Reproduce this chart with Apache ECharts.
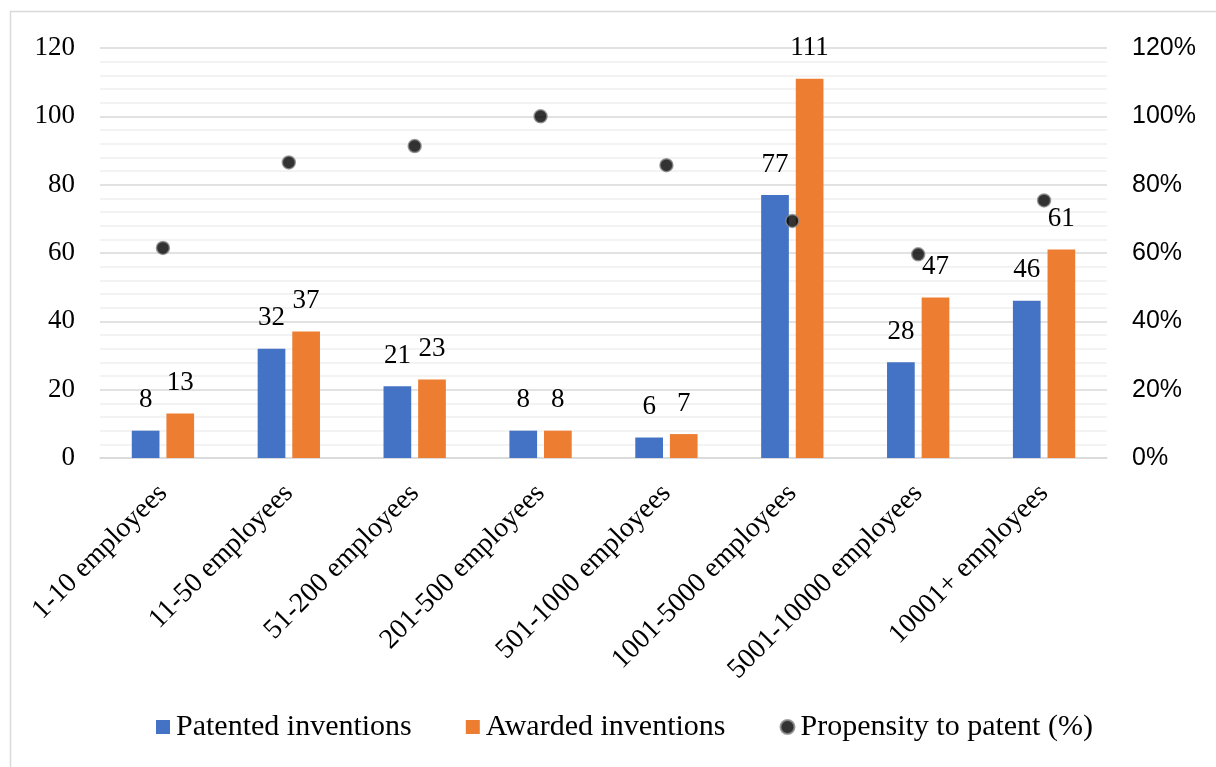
<!DOCTYPE html>
<html>
<head>
<meta charset="utf-8">
<script src="https://cdn.jsdelivr.net/npm/echarts@6/dist/echarts.min.js"></script>
<style>
  html, body { margin: 0; padding: 0; background: #fff; }
  #chart { width: 1216px; height: 767px; }
</style>
</head>
<body>
<div id="chart"></div>
<script>
// data
const categories = ['1-10 employees', '11-50 employees', '51-200 employees', '201-500 employees',
  '501-1000 employees', '1001-5000 employees', '5001-10000 employees', '10001+ employees']
const patented = [8, 32, 21, 8, 6, 77, 28, 46]
const awarded = [13, 37, 23, 8, 7, 111, 47, 61]
const propensity = [61.5, 86.5, 91.3, 100, 85.7, 69.4, 59.6, 75.4]

const serif = '"Liberation Serif", "Times New Roman", serif'
const sans = '"Liberation Sans", Arial, sans-serif'

const chart = echarts.init(document.getElementById('chart'))

const barLabel = {
  show: true,
  position: 'top',
  distance: 17,
  color: '#000',
  fontFamily: serif,
  fontSize: 27
}

chart.setOption({
  animation: false,
  graphic: [{
    type: 'rect',
    shape: {x: 10.5, y: 11.5, width: 1300, height: 900},
    style: {fill: 'none', stroke: '#d9d9d9', lineWidth: 1.5},
    silent: true
  }],
  grid: {left: 100, right: 109, top: 48, bottom: 309},
  legend: {
    top: 712,
    left: 156,
    padding: 0,
    itemGap: 54,
    itemWidth: 14,
    itemHeight: 14,
    textStyle: {fontFamily: serif, fontSize: 30, color: '#000', padding: [0, 0, 0, 1]},
    data: [
      {name: 'Patented inventions', icon: 'rect'},
      {name: 'Awarded inventions', icon: 'rect'},
      {name: 'Propensity to patent (%)', icon: 'circle'}
    ]
  },
  xAxis: {
    type: 'category',
    data: categories,
    axisLine: {lineStyle: {color: '#d9d9d9', width: 1.5}},
    axisTick: {show: false},
    axisLabel: {
      rotate: 45,
      interval: 0,
      margin: 31,
      color: '#000',
      fontFamily: serif,
      fontSize: 28
    }
  },
  yAxis: [{
    type: 'value',
    min: 0,
    max: 120,
    interval: 20,
    axisLine: {show: false},
    axisTick: {show: false},
    axisLabel: {margin: 25, color: '#000', fontFamily: serif, fontSize: 27},
    splitLine: {lineStyle: {color: '#d9d9d9', width: 1.5}},
    minorTick: {show: false, splitNumber: 5},
    minorSplitLine: {show: true, lineStyle: {color: '#f0f0f0', width: 1.5}}
  }, {
    type: 'value',
    min: 0,
    max: 120,
    interval: 20,
    axisLine: {show: false},
    axisTick: {show: false},
    splitLine: {show: false},
    axisLabel: {margin: 25, color: '#000', fontFamily: sans, fontSize: 25, formatter: '{value}%'}
  }],
  series: [{
    name: 'Patented inventions',
    type: 'bar',
    data: patented,
    barWidth: '22%',
    barGap: '25%',
    itemStyle: {color: '#4472c4'},
    label: barLabel
  }, {
    name: 'Awarded inventions',
    type: 'bar',
    data: awarded,
    barWidth: '22%',
    itemStyle: {color: '#ed7d31'},
    label: barLabel
  }, {
    name: 'Propensity to patent (%)',
    type: 'scatter',
    yAxisIndex: 1,
    data: propensity,
    symbolSize: 13,
    itemStyle: {color: '#000', borderColor: '#8c8c8c', borderWidth: 1.5},
    z: 5
  }]
})
</script>
</body>
</html>
